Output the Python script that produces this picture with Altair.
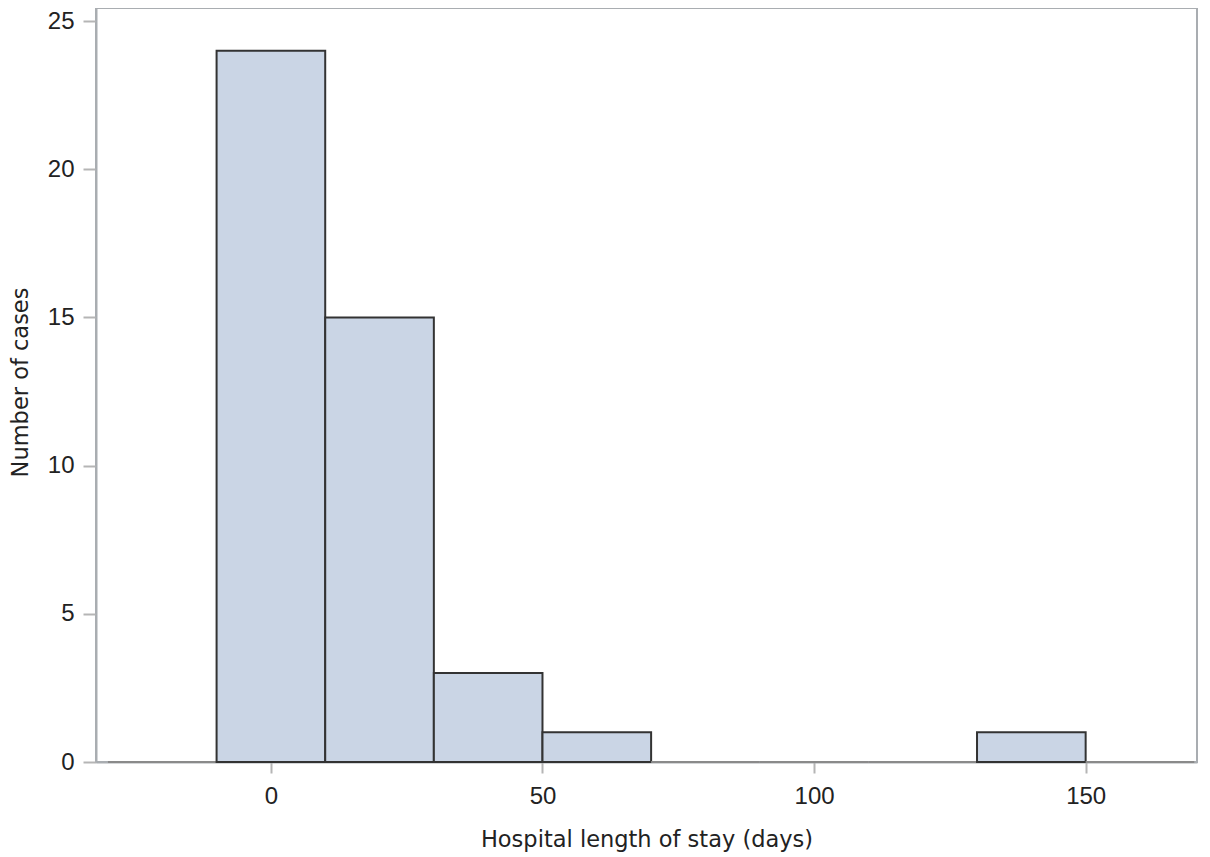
import altair as alt
import pandas as pd

# Histogram bins (midpoints, days) and counts
bin_mid = [-20, 0, 20, 40, 60, 80, 100, 120, 140, 160]
bin_width = 20
counts = [0, 24, 15, 3, 1, 0, 0, 0, 1, 0]

x_ticks = [0, 50, 100, 150]
y_ticks = [0, 5, 10, 15, 20, 25]

df = pd.DataFrame({
    "lo": [m - bin_width / 2 for m in bin_mid],
    "hi": [m + bin_width / 2 for m in bin_mid],
    "count": counts,
})

label_font = "Liberation Sans"
title_font = "DejaVu Sans"

bars = alt.Chart(df).mark_bar(
    fill="#CAD5E5", strokeWidth=2, strokeJoin="miter"
).encode(
    x=alt.X("lo:Q",
            scale=alt.Scale(domain=[-32.2, 170.5], nice=False, zero=False),
            axis=alt.Axis(values=x_ticks, title="Hospital length of stay (days)",
                          tickSize=11, labelPadding=11, titleY=84,
                          titleBaseline="alphabetic")),
    x2="hi:Q",
    y=alt.Y("count:Q",
            scale=alt.Scale(domain=[0, 25.44], nice=False),
            axis=alt.Axis(values=y_ticks, title="Number of cases",
                          tickSize=13, labelPadding=9,
                          titleAngle=270, titleX=-69, titleY=374,
                          titleAlign="center", titleBaseline="alphabetic")),
    y2=alt.datum(0),
    stroke=alt.condition(alt.datum.count > 0, alt.value("#333333"), alt.value("#8a8a8a")),
)

chart = bars.properties(
    width=1101,
    height=754,
    autosize=alt.AutoSizeParams(type="none"),
    padding={"left": 88, "top": 0, "right": 5, "bottom": 95},
    background="white",
).configure_view(
    stroke="#A9ADB1", strokeWidth=2
).configure_axis(
    grid=False,
    domainColor="#A9ADB1",
    domainWidth=2,
    tickColor="#B5B5B5",
    tickWidth=2,
    labelFont=label_font,
    labelFontSize=24,
    labelColor="#222222",
    titleFont=title_font,
    titleFontSize=22.5,
    titleFontWeight="normal",
    titleColor="#222222",
)

chart.save("out.html", embed_options={"renderer": "svg", "actions": False})
